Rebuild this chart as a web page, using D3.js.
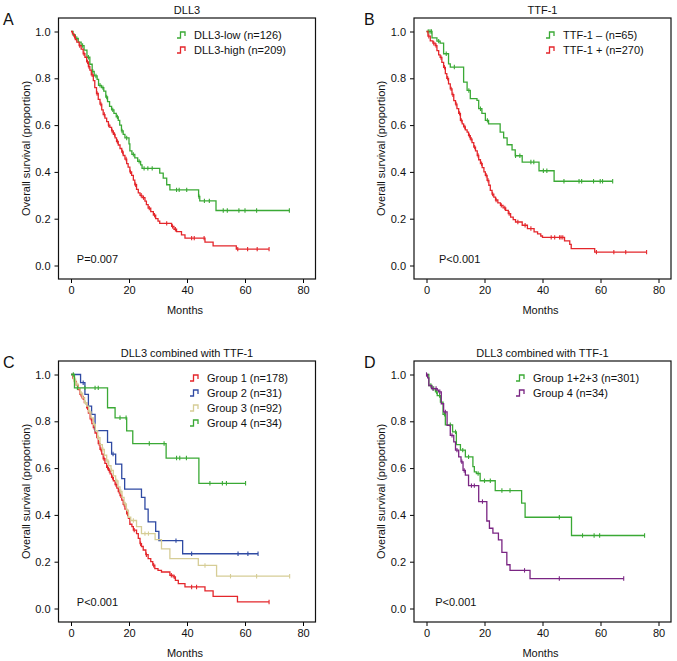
<!DOCTYPE html>
<html>
<head>
<meta charset="utf-8">
<script src="https://cdn.jsdelivr.net/npm/d3@7"></script>
<style>
  body { margin: 0; background: #fff; }
  svg text { font-family: "Liberation Sans", Arial, sans-serif; fill: #111; }
</style>
</head>
<body>
<script>
// axis ticks
const monthTicks = [0, 20, 40, 60, 80];
const survTicks = [0, 0.2, 0.4, 0.6, 0.8, 1.0];

// A: DLL3 -- [month, survival after drop]
const aLowSteps = [[0,1],[0.7,0.985],[1.5,0.97],[2.5,0.955],[3.5,0.94],[4.5,0.92],[5.5,0.89],[6.5,0.86],[7.3,0.83],[8,0.81],[9,0.795],[9.5,0.77],[10.5,0.76],[11.3,0.745],[12,0.72],[12.6,0.7],[13.3,0.68],[14,0.665],[14.8,0.65],[15.6,0.635],[16.3,0.62],[16.8,0.6],[17.4,0.575],[18,0.56],[18.6,0.545],[20,0.52],[20.3,0.49],[21,0.475],[22,0.46],[23,0.445],[24,0.43],[24.5,0.415],[30.6,0.395],[31.8,0.373],[33,0.345],[34.1,0.323],[44,0.295],[44.4,0.276],[50,0.235]];
const aLowCensor = [2,4,6,7.5,8.6,10,11,12.3,14.4,16,17.6,19.2,21.5,23.5,25.2,26.5,28,36.4,37.3,39.9,44.1,46,47.7,52.5,53.9,57.9,60,64,75.3];
const aHighSteps = [[0,1],[0.5,0.99],[1,0.98],[1.5,0.965],[2,0.955],[2.8,0.94],[3.5,0.925],[4.2,0.905],[4.8,0.89],[5.4,0.87],[6,0.85],[6.5,0.835],[7,0.815],[7.7,0.79],[8.2,0.76],[8.8,0.735],[9.4,0.71],[10,0.69],[10.6,0.665],[11.1,0.645],[11.7,0.63],[12.3,0.615],[12.9,0.6],[13.4,0.59],[14,0.575],[14.6,0.56],[15.2,0.545],[15.7,0.53],[16.3,0.515],[16.9,0.5],[17.5,0.485],[18,0.47],[18.6,0.455],[19.2,0.435],[19.7,0.42],[20.3,0.4],[20.9,0.385],[21.5,0.365],[22,0.345],[22.6,0.325],[23.2,0.31],[23.8,0.3],[24.5,0.29],[25.5,0.275],[26,0.26],[26.6,0.245],[27.5,0.23],[28.4,0.215],[29.2,0.2],[30,0.19],[30.6,0.18],[34.7,0.167],[35.5,0.155],[36.4,0.145],[38.1,0.131],[39.3,0.117],[46.2,0.1],[49,0.084],[57,0.07]];
const aHighCensor = [1.2,3,4.5,5.7,6.2,7.3,9,10.3,11.5,13,14.2,15,16,17.8,19,20.5,22.3,24.2,25,27,28.8,33,35,36,41.6,42.5,45.9,57.5,60.9,64.2,68.3];

// B: TTF-1
const bNegSteps = [[0,1],[1.9,0.973],[3.6,0.959],[4.7,0.95],[5.9,0.905],[7.6,0.862],[8.2,0.848],[12.8,0.784],[14,0.748],[15.1,0.713],[17.4,0.706],[18,0.67],[19.1,0.65],[20.3,0.62],[21.4,0.605],[25.4,0.57],[26.6,0.545],[27.8,0.516],[29.5,0.494],[30.6,0.469],[33,0.442],[38.8,0.405],[44,0.36]];
const bNegCensor = [0.6,1.2,1.7,4.2,6.8,9.6,14.6,18.6,21,30.7,32.2,36,37,40.3,41.5,47.4,52.6,53.5,57.6,59.9,60.7,64.2];
const bPosSteps = [[0,1],[0.5,0.98],[1.3,0.96],[2.2,0.95],[3,0.94],[3.6,0.918],[4.2,0.9],[4.7,0.889],[5.3,0.868],[5.9,0.847],[6.5,0.82],[7,0.8],[7.6,0.776],[8.2,0.755],[8.8,0.73],[9.4,0.705],[10,0.69],[10.5,0.67],[11.1,0.65],[11.7,0.62],[12.3,0.605],[12.8,0.592],[13.4,0.58],[14,0.57],[14.5,0.555],[15.1,0.54],[15.7,0.525],[16.3,0.506],[16.9,0.49],[17.5,0.47],[18,0.452],[18.6,0.435],[19.2,0.418],[19.8,0.4],[20.3,0.385],[20.9,0.364],[21.5,0.343],[22,0.321],[22.6,0.305],[23.2,0.292],[23.8,0.28],[24.6,0.268],[25.5,0.257],[26.4,0.246],[27.3,0.236],[28.2,0.222],[29,0.207],[29.9,0.196],[30.7,0.186],[33,0.172],[34.8,0.158],[37.1,0.144],[38.3,0.135],[39.4,0.126],[40,0.12],[47.6,0.105],[49.4,0.09],[49.9,0.072],[58,0.057]];
const bPosCensor = [0.8,2.5,3.3,5,6.2,7.3,8.5,9.1,10.2,11.4,12,13.2,14.8,15.4,16.6,17.8,19,20.6,21.2,22.8,24,25.8,27,28.5,31.5,34,36,43,44.2,45.9,46.4,47,58.6,64.6,68.7,75.9];

// C: DLL3 combined with TTF-1, four groups
const cG1Steps = [[0,1],[0.6,0.985],[1.2,0.97],[1.8,0.955],[2.5,0.935],[3.1,0.915],[3.8,0.9],[4.6,0.88],[5.4,0.858],[6,0.835],[6.6,0.81],[7.2,0.79],[7.7,0.773],[8.3,0.75],[8.9,0.73],[9.4,0.705],[10,0.68],[10.6,0.66],[11.1,0.64],[11.7,0.62],[12.3,0.603],[12.9,0.59],[13.5,0.575],[14,0.56],[14.6,0.546],[15.2,0.53],[15.8,0.515],[16.3,0.5],[16.9,0.482],[17.5,0.463],[18,0.445],[18.6,0.425],[19.2,0.404],[19.8,0.385],[20.3,0.36],[21,0.35],[21.5,0.335],[22.6,0.32],[23.2,0.3],[23.8,0.277],[24.3,0.265],[24.9,0.25],[25.8,0.23],[26.6,0.213],[27.5,0.2],[28.2,0.185],[28.9,0.17],[30,0.163],[31.2,0.156],[34.1,0.142],[35.2,0.135],[36,0.12],[37,0.106],[39.3,0.092],[46.2,0.075],[49,0.052],[57.4,0.028]];
const cG1Censor = [1.5,3.4,4.2,5.7,7,8,9.7,10.3,11.4,12.6,13.2,14.3,15.5,16.6,17.2,18.3,19.5,21.8,24,26,28.5,34.6,35.6,41.6,43.3,68.3];
const cG2Steps = [[0,1],[3.3,0.965],[4.8,0.915],[6,0.865],[7.1,0.83],[8.3,0.76],[12.6,0.71],[14,0.66],[15.4,0.617],[17.5,0.555],[18.5,0.51],[24.3,0.475],[25.5,0.425],[26.6,0.37],[29.2,0.33],[30.3,0.29],[38.5,0.234]];
const cG2Censor = [4.2,14.5,36.2,41.6,57.6,61,64.5];
const cG3Steps = [[0,1],[0.8,0.98],[1.6,0.96],[2.4,0.94],[3.2,0.92],[4,0.9],[4.7,0.88],[5.4,0.865],[6.1,0.84],[6.9,0.815],[7.7,0.787],[8.4,0.76],[9.2,0.73],[10,0.7],[10.8,0.68],[11.5,0.655],[12.3,0.63],[13,0.61],[13.8,0.59],[14.6,0.567],[15.4,0.545],[16.2,0.52],[16.9,0.5],[17.6,0.475],[18.3,0.447],[19.1,0.42],[19.8,0.39],[20.6,0.376],[22.6,0.35],[24.3,0.32],[29,0.294],[31.2,0.255],[34.1,0.213],[43.9,0.184],[50.2,0.138]];
const cG3Censor = [1,2,3.5,5,6.5,8,9.5,11,12.7,14,15.8,17.2,18.7,21.5,25.5,26.7,46.2,55,64,75.4];
const cG4Steps = [[0,1],[1.2,0.943],[12.6,0.858],[15.2,0.815],[19.2,0.759],[21.3,0.705],[32.8,0.643],[44.1,0.535]];
const cG4Censor = [0.8,2.2,4.8,8.3,9.4,16.9,19,27,32.1,36.4,37.5,39.8,47.9,52.2,53.6,60.2];

// D: groups 1+2+3 vs group 4
const dG123Steps = [[0,1],[0.8,0.953],[1.9,0.94],[3.1,0.926],[3.7,0.91],[4.8,0.882],[5.7,0.83],[6.5,0.785],[9,0.755],[10.3,0.7],[11.7,0.677],[13.4,0.648],[16,0.606],[16.5,0.584],[17.2,0.577],[18.5,0.546],[23.7,0.504],[32.8,0.45],[34,0.39],[50,0.312]];
const dG123Censor = [1.5,2.5,3.5,4.5,6.2,8.2,10,12.5,14.5,17.8,20,22,26,28.8,45.8,53.8,57.8,59.7,75.2];
const dG4Steps = [[0,1],[0.4,0.986],[0.8,0.953],[1.7,0.94],[3.7,0.933],[4.2,0.926],[5.1,0.875],[5.9,0.84],[7.1,0.783],[8.2,0.74],[9.4,0.712],[10,0.677],[11.1,0.648],[11.9,0.627],[12.6,0.59],[13.4,0.57],[14.5,0.525],[18,0.457],[20.8,0.374],[21.7,0.343],[22.9,0.322],[24.8,0.293],[26,0.24],[27.7,0.187],[28.8,0.163],[35.7,0.128]];
const dG4Censor = [0,2.2,3.3,4.6,6.5,8.8,10.5,12.2,13,15.5,16.5,19.3,33.8,45.8,68];

const GREEN = "#3aa935", RED = "#e4262b", BLUE = "#2f4aa3", TAN = "#d6cd96", PURPLE = "#7a2583";

const panels = [
  { letter: "A", left: 58.5, top: 18, title: "DLL3", pText: "P=0.007", pMonth: 2, legendDx: 118.5,
    series: [ { name: "DLL3-low (n=126)", color: GREEN, steps: aLowSteps, censor: aLowCensor },
              { name: "DLL3-high (n=209)", color: RED, steps: aHighSteps, censor: aHighCensor } ] },
  { letter: "B", left: 414, top: 18, title: "TTF-1", pText: "P<0.001", pMonth: 4.3, legendDx: 132,
    series: [ { name: "TTF-1 \u2013 (n=65)", color: GREEN, steps: bNegSteps, censor: bNegCensor },
              { name: "TTF-1 + (n=270)", color: RED, steps: bPosSteps, censor: bPosCensor } ] },
  { letter: "C", left: 58.5, top: 361, title: "DLL3 combined with TTF-1", pText: "P<0.001", pMonth: 2, legendDx: 131.5,
    series: [ { name: "Group 1 (n=178)", color: RED, steps: cG1Steps, censor: cG1Censor },
              { name: "Group 2 (n=31)", color: BLUE, steps: cG2Steps, censor: cG2Censor },
              { name: "Group 3 (n=92)", color: TAN, steps: cG3Steps, censor: cG3Censor },
              { name: "Group 4 (n=34)", color: GREEN, steps: cG4Steps, censor: cG4Censor } ] },
  { letter: "D", left: 414, top: 361, title: "DLL3 combined with TTF-1", pText: "P<0.001", pMonth: 3, legendDx: 102,
    series: [ { name: "Group 1+2+3 (n=301)", color: GREEN, steps: dG123Steps, censor: dG123Censor },
              { name: "Group 4 (n=34)", color: PURPLE, steps: dG4Steps, censor: dG4Censor } ] }
];

const W = 677, H = 661;
const boxW = 257, boxH = 261;

const svg = d3.select("body").append("svg")
    .attr("width", W)
    .attr("height", H);

function survAt( steps, t ) {
    let s = 1;
    steps.forEach( d => { if( d[0] <= t ) s = d[1]; });
    return s;
}

panels.forEach( p => {

    const g = svg.append("g").attr("transform", "translate(" + p.left + "," + p.top + ")");

    const x = d3.scaleLinear().domain([0, 80]).range([12.5, 244.5]);
    const y = d3.scaleLinear().domain([0, 1]).range([247.5, 13.5]);

    // axes (R style: ticks hanging off the box, no axis line)
    g.append("g")
        .attr("transform", "translate(0," + boxH + ")")
        .call(d3.axisBottom(x).tickValues(monthTicks).tickSize(4).tickPadding(3))
        .call(a => a.select(".domain").remove())
        .call(a => a.selectAll("text").attr("font-size", 11).style("font-family", "Liberation Sans, Arial, sans-serif"));

    g.append("g")
        .call(d3.axisLeft(y).tickValues(survTicks).tickFormat(d3.format(".1f")).tickSize(4).tickPadding(4))
        .call(a => a.select(".domain").remove())
        .call(a => a.selectAll("text").attr("font-size", 11).style("font-family", "Liberation Sans, Arial, sans-serif"));

    g.append("rect")
        .attr("width", boxW)
        .attr("height", boxH)
        .attr("fill", "none")
        .attr("stroke", "#111")
        .attr("stroke-width", 1.2);

    // titles
    g.append("text")
        .attr("x", boxW / 2).attr("y", -4)
        .attr("text-anchor", "middle").attr("font-size", 11)
        .text(p.title);

    svg.append("text")
        .attr("x", p.left < 200 ? 3 : 364).attr("y", p.top + 7)
        .attr("font-size", 16)
        .text(p.letter);

    g.append("text")
        .attr("x", boxW / 2 - 2).attr("y", boxH + 35)
        .attr("text-anchor", "middle").attr("font-size", 11)
        .text("Months");

    g.append("text")
        .attr("transform", "translate(-29," + (boxH / 2) + ") rotate(-90)")
        .attr("text-anchor", "middle").attr("font-size", 11)
        .text("Overall survival (proportion)");

    g.append("text")
        .attr("x", x(p.pMonth)).attr("y", 245)
        .attr("font-size", 11)
        .text(p.pText);

    // curves
    const line = d3.line()
        .x(d => x(d[0]))
        .y(d => y(d[1]))
        .curve(d3.curveStepAfter);

    p.series.forEach( s => {
        const last = s.steps[s.steps.length - 1];
        const end = Math.max(d3.max(s.censor), last[0]);
        const pts = s.steps.concat([[end, last[1]]]);

        g.append("path")
            .attr("d", line(pts))
            .attr("fill", "none")
            .attr("stroke", s.color)
            .attr("stroke-width", 1.3);

        g.append("g").selectAll("line")
            .data(s.censor)
            .join("line")
            .attr("x1", d => x(d)).attr("x2", d => x(d))
            .attr("y1", d => y(survAt(s.steps, d)) - 2.2)
            .attr("y2", d => y(survAt(s.steps, d)) + 2.2)
            .attr("stroke", s.color)
            .attr("stroke-width", 1.1);
    });

    // legend
    const lg = g.append("g").attr("transform", "translate(" + p.legendDx + ",21)");
    p.series.forEach( (s, i) => {
        lg.append("path")
            .attr("d", "M0," + (i * 15 - 1) + "H3.5V" + (i * 15 - 7) + "H8V" + (i * 15 - 3))
            .attr("fill", "none")
            .attr("stroke", s.color)
            .attr("stroke-width", 1.3);
        lg.append("text")
            .attr("x", 17).attr("y", i * 15)
            .attr("font-size", 11)
            .text(s.name);
    });
});
</script>
</body>
</html>
